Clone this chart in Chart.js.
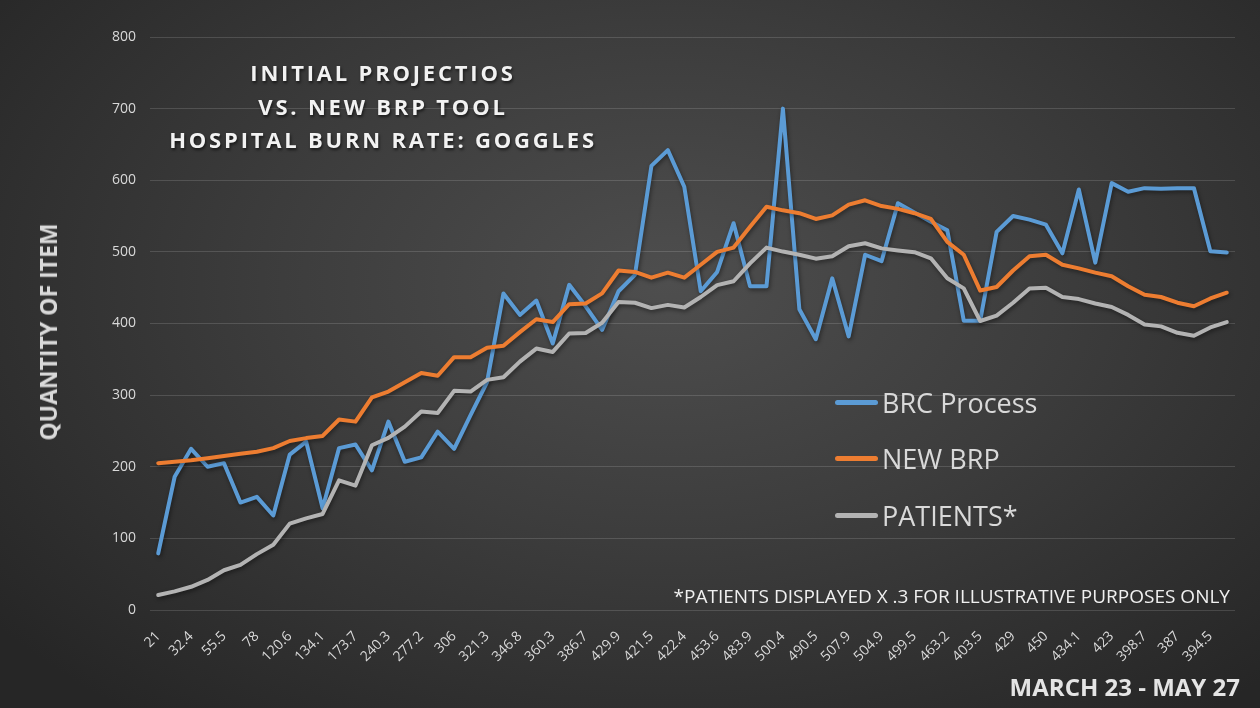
<!DOCTYPE html>
<html>
<head>
<meta charset="utf-8">
<script src="https://cdn.jsdelivr.net/npm/chart.js@4"></script>
<style>
  body { margin: 0; }
  #wrap {
    position: relative;
    width: 1260px;
    height: 708px;
    overflow: hidden;
    background: radial-gradient(ellipse 68% 78% at 53% 40%, #4e4e4e 0%, #3d3d3d 45%, #262626 100%);
    font-family: 'Open Sans', sans-serif;
  }
  #chart { position: absolute; left: 0; top: 0; }
  .title {
    position: absolute; left: 83px; top: 56px; width: 600px;
    text-align: center; color: #f2f2f2; font-weight: bold;
    font-size: 22px; line-height: 33.5px; letter-spacing: 2.8px;
    text-shadow: 1px 2px 3px rgba(0,0,0,0.6);
  }
  .ytitle {
    position: absolute; left: 48px; top: 332px; white-space: nowrap;
    transform: translate(-50%, -50%) rotate(-90deg);
    color: #d9d9d9; font-weight: bold; font-size: 23px;
  }
  .legend-row { position: absolute; left: 835px; height: 30px; display: flex; align-items: center; }
  .legend-row .swatch { width: 43px; height: 5px; border-radius: 3px; margin-right: 4px; }
  .legend-row span { color: #d9d9d9; font-size: 27px; }
  .note {
    position: absolute; right: 30px; top: 583px; color: #f0f0f0;
    font-size: 19px; white-space: nowrap;
  }
  .dates {
    position: absolute; right: 20px; top: 670px; color: #e4e4e4;
    font-size: 24px; font-weight: bold; white-space: nowrap;
  }
</style>
</head>
<body>
<div id="wrap">
  <canvas id="chart" width="1260" height="708"></canvas>
  <div class="title">INITIAL PROJECTIOS<br>VS. NEW BRP TOOL<br>HOSPITAL BURN RATE: GOGGLES</div>
  <div class="ytitle">QUANTITY OF ITEM</div>
  <div class="legend-row" style="top:387px"><div class="swatch" style="background:#5b9bd5"></div><span>BRC Process</span></div>
  <div class="legend-row" style="top:443px"><div class="swatch" style="background:#ed7d31"></div><span>NEW BRP</span></div>
  <div class="legend-row" style="top:500px"><div class="swatch" style="background:#b3b3b3"></div><span>PATIENTS*</span></div>
  <div class="note">*PATIENTS DISPLAYED X .3 FOR ILLUSTRATIVE PURPOSES ONLY</div>
  <div class="dates">MARCH 23 - MAY 27</div>
</div>
<script>
// Patients (x .3) - also used as the category labels
const patients = [21, 26, 32.4, 42, 55.5, 63, 78, 91, 120.6, 128, 134.1, 181, 173.7, 230, 240.3, 256,
    277.2, 275, 306, 305, 321.3, 325, 346.8, 365, 360.3, 386, 386.7, 401, 429.9, 429, 421.5, 426,
    422.4, 437, 453.6, 459, 483.9, 506, 500.4, 496, 490.5, 494, 507.9, 512, 504.9, 502, 499.5, 491,
    463.2, 449, 403.5, 411, 429, 449, 450, 437, 434.1, 428, 423, 412, 398.7, 396, 387, 383, 394.5, 402];

const brcProcess = [79, 186, 225, 200, 205, 150, 158, 132, 217, 235, 142, 226, 231, 195, 263, 207,
    213, 249, 225, 272, 318, 442, 412, 432, 372, 454, 424, 391, 445, 468, 620, 642,
    591, 445, 472, 540, 452, 452, 700, 420, 378, 463, 382, 496, 487, 568, 555, 542,
    530, 404, 404, 528, 550, 545, 538, 498, 587, 485, 596, 584, 589, 588, 589, 589, 501, 499];

const newBrp = [205, 207, 209, 212, 215, 218, 221, 226, 236, 240, 243, 266, 263, 297, 305, 318,
    331, 327, 353, 353, 366, 369, 388, 406, 402, 427, 428, 442, 474, 472, 464, 471,
    464, 482, 500, 506, 535, 563, 558, 554, 546, 551, 566, 572, 564, 560, 554, 546,
    514, 496, 446, 451, 474, 494, 496, 482, 477, 471, 466, 452, 440, 437, 429, 424, 435, 443];

const categories = patients.map(String);
const yTicks = [0, 100, 200, 300, 400, 500, 600, 700, 800];

// Soft drop shadow under each line
const lineShadow = {
    id: 'lineShadow',
    beforeDatasetDraw(chart) {
        const ctx = chart.ctx;
        ctx.save();
        ctx.shadowColor = 'rgba(0, 0, 0, 0.45)';
        ctx.shadowBlur = 4;
        ctx.shadowOffsetX = 1;
        ctx.shadowOffsetY = 2;
    },
    afterDatasetDraw(chart) {
        chart.ctx.restore();
    }
};

function lineSet(label, data, color, order) {
    return {
        label: label,
        data: data,
        borderColor: color,
        backgroundColor: color,
        borderWidth: 4,
        pointRadius: 0,
        tension: 0,
        borderJoinStyle: 'round',
        borderCapStyle: 'round',
        order: order
    };
}

const ctx = document.getElementById('chart').getContext('2d');
new Chart(ctx, {
    type: 'line',
    data: {
        labels: categories,
        datasets: [
            lineSet('BRC Process', brcProcess, '#5b9bd5', 3),
            lineSet('NEW BRP', newBrp, '#ed7d31', 2),
            lineSet('PATIENTS*', patients, '#b3b3b3', 1)
        ]
    },
    options: {
        responsive: false,
        animation: false,
        layout: { padding: { left: 0, right: 25, top: 37, bottom: 0 } },
        plugins: {
            legend: { display: false },
            tooltip: { enabled: false }
        },
        scales: {
            x: {
                offset: true,
                grid: { display: false },
                border: { display: false },
                ticks: {
                    color: '#d9d9d9',
                    font: { family: 'Open Sans', size: 14 },
                    autoSkip: false,
                    minRotation: 45,
                    maxRotation: 45,
                    padding: 10,
                    callback: function(value, index) {
                        return index % 2 === 0 ? this.getLabelForValue(value) : '';
                    }
                },
                afterFit: function(scale) { scale.height = 98; }
            },
            y: {
                min: yTicks[0],
                max: yTicks[yTicks.length - 1],
                grid: { color: 'rgba(255, 255, 255, 0.14)', drawTicks: false },
                border: { display: false },
                ticks: {
                    stepSize: 100,
                    color: '#d9d9d9',
                    font: { family: 'Open Sans', size: 14 },
                    padding: 14
                },
                afterFit: function(scale) { scale.width = 150; }
            }
        }
    },
    plugins: [lineShadow]
});
</script>
</body>
</html>
